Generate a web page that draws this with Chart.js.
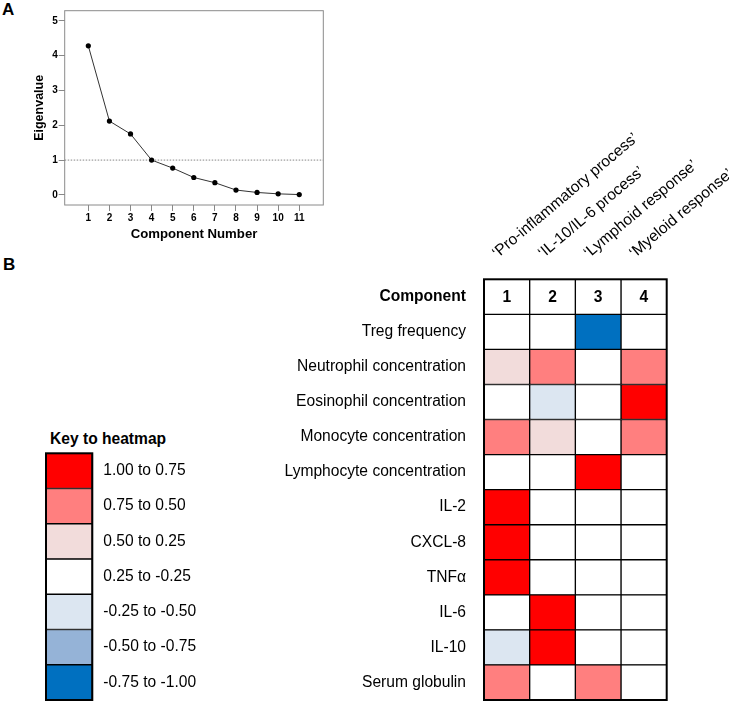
<!DOCTYPE html>
<html>
<head>
<meta charset="utf-8">
<script src="https://cdn.jsdelivr.net/npm/chart.js@4.4.1/dist/chart.umd.min.js"></script>
<style>
  html, body { margin: 0; padding: 0; background: #fff; }
  body { width: 729px; height: 703px; position: relative; overflow: hidden; font-family: 'Liberation Sans', Arial, sans-serif; }
  canvas, .panel, .keytitle { position: absolute; }
  .panel { font-weight: bold; font-size: 17px; line-height: 17px; }
  .keytitle { font-weight: bold; font-size: 15.6px; line-height: 18px; white-space: nowrap; }
</style>
</head>
<body>
<div class="panel" style="left:2px;top:1px">A</div>
<div class="panel" style="left:3px;top:256px">B</div>
<div class="keytitle" style="left:50px;top:430px">Key to heatmap</div>
<canvas id="scree" width="340" height="250" style="left:0;top:0"></canvas>
<canvas id="heat" width="449" height="703" style="left:280px;top:0"></canvas>
<canvas id="key" width="260" height="278" style="left:0;top:425px"></canvas>
<script>
const FONT = "'Liberation Sans', Arial, Helvetica, sans-serif";

// panel A - scree plot
const componentNumbers = [1, 2, 3, 4, 5, 6, 7, 8, 9, 10, 11];
const eigenvalues = [4.28, 2.12, 1.75, 1.00, 0.77, 0.50, 0.35, 0.14, 0.07, 0.03, 0.01];
const eigenTicks = [0, 1, 2, 3, 4, 5];
const kaiserCutoff = 1;
const X_MIN = -0.12, X_MAX = 12.14;

// panel B - heatmap
const components = ['1', '2', '3', '4'];
const componentNames = ['\u2018Pro-inflammatory process\u2019', '\u2018IL-10/IL-6 process\u2019', '\u2018Lymphoid response\u2019', '\u2018Myeloid response\u2019'];
const variables = ['Treg frequency', 'Neutrophil concentration', 'Eosinophil concentration', 'Monocyte concentration',
  'Lymphocyte concentration', 'IL-2', 'CXCL-8', 'TNF\u03b1', 'IL-6', 'IL-10', 'Serum globulin'];
// loading band per variable: 3 = 1.00 to 0.75 ... 0 = 0.25 to -0.25 ... -3 = -0.75 to -1.00
const comp1Bands = [0, 1, 0, 2, 0, 3, 3, 3, 0, -1, 2];
const comp2Bands = [0, 2, -1, 1, 0, 0, 0, 0, 3, 3, 0];
const comp3Bands = [-3, 0, 0, 0, 3, 0, 0, 0, 0, 0, 2];
const comp4Bands = [0, 2, 3, 2, 0, 0, 0, 0, 0, 0, 0];

const keyLabels = ['1.00 to 0.75', '0.75 to 0.50', '0.50 to 0.25', '0.25 to -0.25', '-0.25 to -0.50', '-0.50 to -0.75', '-0.75 to -1.00'];
const keyColors = ['#FF0000', '#FF7F7F', '#F2DCDB', '#FFFFFF', '#DCE6F1', '#95B3D7', '#0070C0'];

const bandColor = b => keyColors[3 - b];

// box round the chart area
const framePlugin = {
  id: 'frame',
  afterDatasetsDraw(chart, args, opts) {
    const {left, top, width, height} = chart.chartArea;
    const ctx = chart.ctx;
    ctx.save();
    ctx.strokeStyle = opts.color;
    ctx.lineWidth = opts.width;
    ctx.strokeRect(left, top, width, height);
    ctx.restore();
  }
};

// component numbers in the header row
const headerPlugin = {
  id: 'header',
  afterDatasetsDraw(chart) {
    const ctx = chart.ctx;
    ctx.save();
    ctx.font = 'bold 15.6px ' + FONT;
    ctx.fillStyle = '#000';
    ctx.textAlign = 'center';
    ctx.textBaseline = 'middle';
    chart.data.datasets.forEach((ds, k) => {
      const p = chart.getDatasetMeta(k).data[0].getCenterPoint();
      ctx.fillText(ds.label, p.x, p.y + 1);
    });
    ctx.restore();
  }
};

const tickFont = {family: FONT, size: 10, weight: 'bold'};

new Chart(document.getElementById('scree'), {
  type: 'scatter',
  data: {
    datasets: [
      {
        data: componentNumbers.map((c, i) => ({x: c, y: eigenvalues[i]})),
        showLine: true, borderColor: '#333', borderWidth: 1,
        pointRadius: 2.6, pointBackgroundColor: '#000', pointBorderWidth: 0
      },
      {
        data: [{x: X_MIN, y: kaiserCutoff}, {x: X_MAX, y: kaiserCutoff}],
        showLine: true, borderColor: '#666', borderWidth: 0.8, borderDash: [1.5, 1.5], pointRadius: 0
      }
    ]
  },
  plugins: [framePlugin],
  options: {
    responsive: false, animation: false, devicePixelRatio: 1,
    layout: {padding: {top: 10.7, right: 16.7, left: 0, bottom: 0}},
    plugins: {legend: {display: false}, tooltip: {enabled: false}, frame: {color: '#8a8a8a', width: 1}},
    scales: {
      x: {
        type: 'linear', min: X_MIN, max: X_MAX,
        afterBuildTicks: s => { s.ticks = componentNumbers.map(v => ({value: v})); },
        ticks: {font: tickFont, color: '#000', padding: 1, autoSkip: false, maxRotation: 0},
        grid: {drawOnChartArea: false, drawTicks: true, tickLength: 6, color: '#888'},
        border: {display: false},
        title: {display: true, text: 'Component Number', color: '#000', font: {family: FONT, size: 13.2, weight: 'bold'}, padding: {top: 0, bottom: 8}},
        afterFit: s => { s.height = 45; }
      },
      y: {
        min: -0.29, max: 5.29,
        afterBuildTicks: s => { s.ticks = eigenTicks.map(v => ({value: v})); },
        ticks: {font: tickFont, color: '#000', padding: 1},
        grid: {drawOnChartArea: false, drawTicks: true, tickLength: 6, color: '#888'},
        border: {display: false},
        title: {display: true, text: 'Eigenvalue', color: '#000', font: {family: FONT, size: 12.5, weight: 'bold'}, padding: {top: 32.5, bottom: 0}},
        afterFit: s => { s.width = 64.7; }
      }
    }
  }
});

const bandsByComponent = [comp1Bands, comp2Bands, comp3Bands, comp4Bands];
const rowLabels = ['Component'].concat(variables);

new Chart(document.getElementById('heat'), {
  type: 'bar',
  data: {
    labels: rowLabels,
    datasets: components.map((c, k) => ({
      label: c,
      data: rowLabels.map(() => 1),
      backgroundColor: ['#FFFFFF'].concat(bandsByComponent[k].map(bandColor)),
      borderColor: '#000', borderWidth: 1, borderSkipped: false,
      barPercentage: 1, categoryPercentage: 1
    }))
  },
  plugins: [framePlugin, headerPlugin],
  options: {
    indexAxis: 'y',
    responsive: false, animation: false, devicePixelRatio: 1,
    layout: {padding: {top: 0, right: 62.3, left: 0, bottom: 3}},
    plugins: {legend: {display: false}, tooltip: {enabled: false}, frame: {color: '#000', width: 2}},
    scales: {
      x: {
        type: 'linear', position: 'top', stacked: true, min: 0, max: 4,
        afterBuildTicks: s => { s.ticks = components.map((c, k) => ({value: k + 0.5})); },
        ticks: {callback: (v, i) => componentNames[i], minRotation: 40, maxRotation: 40, autoSkip: false,
          font: {family: FONT, size: 15.6}, color: '#000', padding: 17},
        grid: {display: false, drawTicks: false},
        border: {display: false},
        afterFit: s => { s.height = 279.3; s.paddingLeft = 0; s.paddingRight = 0; }
      },
      y: {
        stacked: true,
        ticks: {
          font: ctx => ({family: FONT, size: 15.6, weight: ctx.index === 0 ? 'bold' : 'normal'}),
          color: '#000', padding: 18, autoSkip: false
        },
        grid: {display: false, drawTicks: false},
        border: {display: false},
        afterFit: s => { s.width = 204; s.paddingTop = 0; s.paddingBottom = 0; }
      }
    }
  }
});

new Chart(document.getElementById('key'), {
  type: 'bar',
  data: {
    labels: keyLabels,
    datasets: [{
      data: keyLabels.map(() => 1),
      backgroundColor: keyColors,
      borderColor: '#000', borderWidth: 1, borderSkipped: false,
      barPercentage: 1, categoryPercentage: 1
    }]
  },
  plugins: [framePlugin],
  options: {
    indexAxis: 'y',
    responsive: false, animation: false, devicePixelRatio: 1,
    layout: {padding: {top: 28.3, right: 0, left: 46, bottom: 3}},
    plugins: {
      legend: {display: false}, tooltip: {enabled: false},
      frame: {color: '#000', width: 2}
    },
    scales: {
      x: {display: false, min: 0, max: 1},
      y: {
        position: 'right',
        ticks: {font: {family: FONT, size: 15.6}, color: '#000', padding: 11, autoSkip: false},
        grid: {display: false, drawTicks: false},
        border: {display: false},
        afterFit: s => { s.width = 167.7; s.paddingTop = 0; s.paddingBottom = 0; }
      }
    }
  }
});
</script>
</body>
</html>
